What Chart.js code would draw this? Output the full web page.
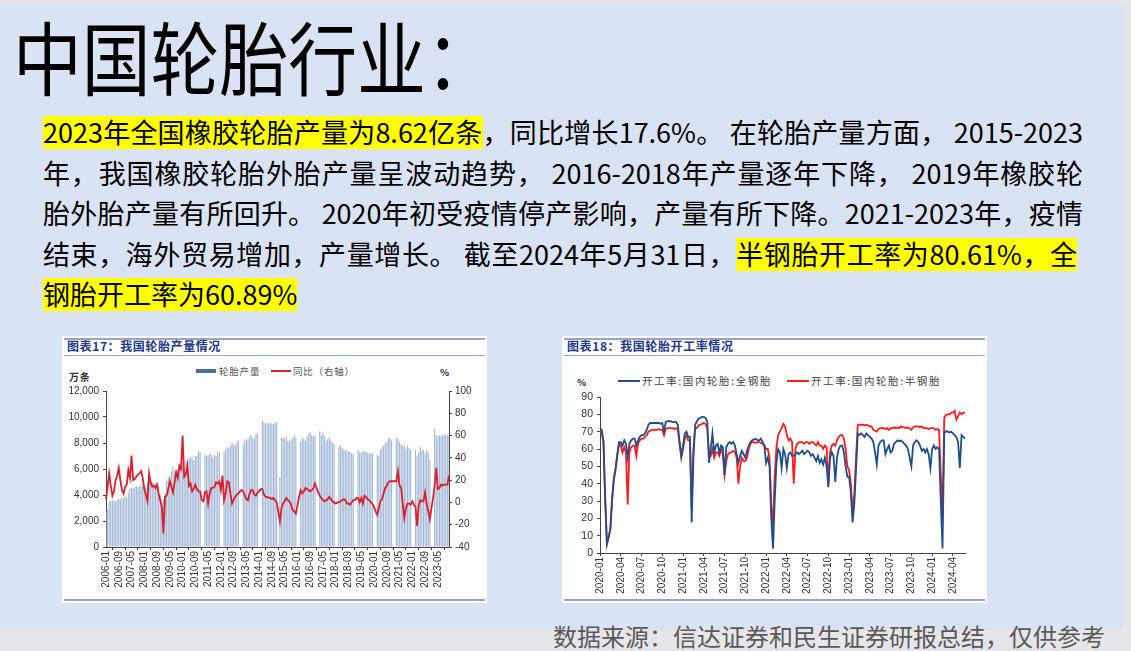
<!DOCTYPE html>
<html><head><meta charset="utf-8">
<script src="https://cdn.jsdelivr.net/npm/chart.js@4.4.1/dist/chart.umd.min.js"></script>
<style>
html,body{margin:0;padding:0;}
body{width:1131px;height:651px;background:#e6e6e8;position:relative;overflow:hidden;font-family:"Noto Sans CJK SC","Noto Sans",sans-serif;}
#slide{position:absolute;left:0;top:5px;width:1123px;height:625px;background:#dae3f3;}
.abs{position:absolute;white-space:nowrap;}
#title{left:13px;top:14px;font-size:80px;line-height:80px;color:#000;transform:scaleX(0.86);transform-origin:left top;}
.pl{position:absolute;left:43px;font-size:27px;line-height:40px;color:#000;white-space:nowrap;text-align:justify;text-align-last:justify;}
.hl{background:linear-gradient(to bottom,transparent 4px,#ffff00 4px,#ffff00 37px,transparent 37px);}
.box{position:absolute;background:#fff;}
.rule{position:absolute;left:2px;right:2px;background:#97a4c9;}
.ctitle{position:absolute;left:5px;top:3px;font-size:12px;line-height:14px;font-weight:700;color:#22398a;letter-spacing:0.6px;white-space:nowrap;}
.leg{position:absolute;font-size:9.5px;line-height:10px;color:#555;white-space:nowrap;letter-spacing:0.8px;}
canvas{position:absolute;}
#src{left:553px;top:624px;font-size:24px;line-height:24px;color:#595959;}
</style></head>
<body>
<div id="slide"></div>
<div id="title" class="abs">中国轮胎行业：</div>

<div class="pl" style="top:112px;width:1040px;"><span class="hl">2023年全国橡胶轮胎产量为8.62亿条</span>，同比增长17.6%。 在轮胎产量方面， 2015-2023</div>
<div class="pl" style="top:153px;width:1040px;">年，我国橡胶轮胎外胎产量呈波动趋势， 2016-2018年产量逐年下降， 2019年橡胶轮</div>
<div class="pl" style="top:193px;width:1040px;">胎外胎产量有所回升。 2020年初受疫情停产影响，产量有所下降。2021-2023年，疫情</div>
<div class="pl" style="top:234px;width:1034px;">结束，海外贸易增加，产量增长。 截至2024年5月31日，<span class="hl">半钢胎开工率为80.61%，全</span></div>
<div class="pl" style="top:274px;text-align:left;text-align-last:left;"><span class="hl">钢胎开工率为60.89%</span></div>

<!-- chart 1 box -->
<div class="box" style="left:62px;top:336px;width:425px;height:267px;">
  <div class="rule" style="top:2px;height:2px;"></div>
  <div class="ctitle">图表17：我国轮胎产量情况</div>
  <div class="rule" style="top:19px;height:1px;"></div>
  <div class="rule" style="top:263px;height:2px;"></div>
  <div class="abs" style="left:134px;top:33px;width:20px;height:4px;background:#4a6fa5;"></div>
  <div class="leg" style="left:157px;top:30px;">轮胎产量</div>
  <div class="abs" style="left:209px;top:34px;width:20px;height:2px;background:#e0202e;"></div>
  <div class="leg" style="left:231px;top:30px;">同比（右轴）</div>
  <div class="leg" style="left:7px;top:36px;font-weight:700;color:#333;font-size:10px;">万条</div>
  <div class="leg" style="left:378px;top:31px;font-weight:700;color:#333;">%</div>
</div>
<canvas id="c1" width="425" height="240" style="left:62px;top:360px;width:425px;height:240px;"></canvas>

<!-- chart 2 box -->
<div class="box" style="left:562px;top:336px;width:425px;height:267px;">
  <div class="rule" style="top:2px;height:2px;"></div>
  <div class="ctitle">图表18：我国轮胎开工率情况</div>
  <div class="rule" style="top:19px;height:1px;"></div>
  <div class="rule" style="top:263px;height:2px;"></div>
  <div class="leg" style="left:15px;top:41px;color:#333;font-weight:700;">%</div>
  <div class="abs" style="left:56px;top:44px;width:22px;height:2px;background:#1f4e8c;"></div>
  <div class="leg" style="left:80px;top:40px;font-size:10.5px;letter-spacing:1.6px;color:#444;">开工率:国内轮胎:全钢胎</div>
  <div class="abs" style="left:225px;top:44px;width:22px;height:2px;background:#ff1a1a;"></div>
  <div class="leg" style="left:249px;top:40px;font-size:10.5px;letter-spacing:1.6px;color:#444;">开工率:国内轮胎:半钢胎</div>
</div>
<canvas id="c2" width="425" height="240" style="left:562px;top:360px;width:425px;height:240px;"></canvas>

<div id="src" class="abs">数据来源：信达证券和民生证券研报总结，仅供参考</div>

<script>
// ===== Chart 1: 我国轮胎产量 (万条) & 同比 (%) , 2006-01 .. 2023-12 monthly =====
const years1 = [2006,2007,2008,2009,2010,2011,2012,2013,2014,2015,2016,2017,2018,2019,2020,2021,2022,2023];
const production = [
 2750,2900,3500,3550,3600,3550,3500,3600,3700,3650,3800,3750,
 3900,3800,4200,4450,4550,4500,4600,4700,4600,4650,4800,4700,
 4750,4600,5000,5150,5100,4950,5000,4850,4900,4700,4000,3600,
 3700,4200,5100,5300,5500,5800,6200,5850,5900,5950,6100,6000,
 6300,5600,6700,6600,6800,6900,6900,6700,7000,7000,7400,7300,
 null,null,7100,7000,7050,7200,7100,6900,7100,7000,7250,7300,
 null,null,7300,7500,7700,7600,7800,8000,7900,7800,8050,8200,
 null,null,7900,8200,8300,8250,8500,8600,8400,8350,8700,8750,
 null,null,9700,9600,9500,9550,9500,9600,9450,9500,9550,9600,
 null,5400,8400,8450,8300,8500,8200,8100,8250,8400,8600,8400,
 null,null,8100,8400,8300,8200,8450,8700,8850,8600,8500,8600,
 null,null,8900,8600,8800,8500,8200,8300,8400,8200,8000,7900,
 null,null,7700,7800,7600,7500,7450,7400,7350,7300,7200,7200,
 null,null,7500,7300,7250,7400,7350,7300,7250,7200,7250,7200,
 null,null,7100,7000,7500,7700,7800,8000,8100,8350,8400,8200,
 null,null,8400,8350,8100,7900,7800,7800,7500,7800,7600,7500,
 null,null,7500,7000,7300,7700,7400,7500,7200,7400,7300,6700,
 null,null,9100,8600,8500,8600,8550,8600,8650,8700,8600,8600
];
const yoy = [
 3,14,26,15,6,10,20,24,31,20,11,8,
 14,16,29,22,42,20,21,23,25,26,28,22,
 12,7,1,26,18,14,15,13,16,8,2,-4,
 -28,5,6,12,19,14,9,18,27,22,33,30,
 60,23,25,33,15,17,10,12,16,12,10,10,
 2,1,9,10,-1,8,13,13,14,18,17,19,
 11,24,2,8,19,18,8,-1,2,5,7,8,
 10,11,10,6,3,2,8,11,11,7,6,9,
 10,12,12,7,5,5,4,4,3,4,2,0,
 -8,-17,-5,-1,1,4,2,1,-2,-7,-8,-10,
 -3,5,11,8,10,13,12,11,10,11,13,17,
 13,9,6,4,2,1,2,3,5,3,1,0,
 -1,0,0,1,2,3,2,-1,-1,-2,0,2,
 2,4,4,0,4,-1,6,5,3,2,0,-1,
 -4,-8,-11,-5,1,3,8,13,15,18,19,19,
 19,19,19,28,15,13,-1,-14,-5,-1,-1,-2,
 1,-2,-4,-21,-3,2,1,1,9,-1,-8,-15,
 -5,4,15,31,12,13,16,15,16,16,16,24
];
const ticks1 = ["2006-01","2006-09","2007-05","2008-01","2008-09","2009-05","2010-01","2010-09","2011-05","2012-01","2012-09","2013-05","2014-01","2014-09","2015-05","2016-01","2016-09","2017-05","2018-01","2018-09","2019-05","2020-01","2020-09","2021-05","2022-01","2022-09","2023-05"];

// ===== Chart 2: 开工率 (%) weekly, 2020-01 .. 2024-05 (4 readings per month) =====
const months2 = ["2020-01","2020-02","2020-03","2020-04","2020-05","2020-06","2020-07","2020-08","2020-09","2020-10","2020-11","2020-12",
 "2021-01","2021-02","2021-03","2021-04","2021-05","2021-06","2021-07","2021-08","2021-09","2021-10","2021-11","2021-12",
 "2022-01","2022-02","2022-03","2022-04","2022-05","2022-06","2022-07","2022-08","2022-09","2022-10","2022-11","2022-12",
 "2023-01","2023-02","2023-03","2023-04","2023-05","2023-06","2023-07","2023-08","2023-09","2023-10","2023-11","2023-12",
 "2024-01","2024-02","2024-03","2024-04","2024-05"];
const ticks2 = ["2020-01","2020-04","2020-07","2020-10","2021-01","2021-04","2021-07","2021-10","2022-01","2022-04","2022-07","2022-10","2023-01","2023-04","2023-07","2023-10","2024-01","2024-04"];
const fullSteel = [
 72,71,65,32, 5,9,14,32, 43,49,57,64, 64,62,65,63, 55,63,65,66, 66,62,65,67,
 68,68,69,71, 74,75,75,75, 75,75,75,74.5, 75,70,75.6,76, 76,76,75.5,75.5, 75.6,74,64,56,
 62,69,70,67, 67,17.6,55,74, 76,77.5,78,78.5, 78.5,78,76,52, 60,69,58,62, 63,58,62,61,
 45,61,63,64, 63,64,62,57, 52,56,59,57, 55,59,62,64, 65,65.5,66,65, 65,66,64,62,
 52,55,50,20, 2.5,30,52,60, 58,49,60,57, 49,57,58,56, 56,57,58,57, 58,59,57,58,
 59,58,56,57, 55,53,56,52, 54,51,55,50, 38,55,58,56, 41,55,60,62, 62,58,50,44,
 44,35,17.6,28, 48,68.9,68,69, 68,67,69,68, 67,66,64,58, 51,62,64,65, 65,57,60,62,
 58,59,63,64, 65,64.5,65,64, 63,62,60,55, 50,62,64,65, 64,62,59,60, 58,60,57,49,
 60,62,60,61, 60,30,2.6,69, 70.3,70,69.5,70, 69,68,67,64, 49,68,67,66
];
const semiSteel = [
 70.5,69,64,30, 5.4,9,14,30, 42,48,56,63, 62,58,61,58, 28,58,61,62, 62,56,63,65,
 66,66,67,68, 70,70.5,71,71, 71,71,71.5,71, 71,68,71.5,72, 72,72,72,71.5, 72,71,63,55,
 60,66,68,65, 65,26,60,72, 72,73.7,74,74.5, 75,74.5,72,58, 56,60,55,58, 58,56,60,57,
 45,53,57,58, 58,59,58,55, 40,50,55,53, 53,55,60,63, 64,64,63.5,64, 64,63.5,63,62,
 60,60,55,28, 15,45,61,68, 70,72,74.5,73, 68,65,66,64, 40,60,63,64, 64,64,63,64,
 64,63,64,64, 63,62,64,62, 62,60,62,61, 40,58,62,63, 62,65,67,68, 68,66,60,50,
 48,40,23.5,34, 55,73.7,74,74, 74,73.7,74,73.5, 73,73,71,70.5, 70,71.5,72,72, 72,71.5,72,71,
 72,72,72.5,72, 72.5,72,73,72.5, 72.5,72,72.5,72, 71,72.5,73,73, 73,72.5,73,72, 72,72,71.5,72,
 72,72,71,71.5, 71,45,22,78, 79.7,80,80,81, 81,82,77,79, 81,80,81,81
];

// category labels
const months1 = [];
years1.forEach(y => { for (let m = 1; m <= 12; m++) months1.push(y + "-" + String(m).padStart(2, "0")); });
const weeks2 = [];
months2.forEach(m => { for (let k = 0; k < 4; k++) weeks2.push(m); });

const tickFont = {family: "'Liberation Sans', Arial, sans-serif", size: 10};
const axisColor = '#444';

new Chart(document.getElementById('c1'), {
  type: 'bar',
  data: {
    labels: months1,
    datasets: [
      {type: 'line', label: '同比（右轴）', data: yoy, yAxisID: 'y1', borderColor: '#dc1f2d', borderWidth: 1.8,
       pointRadius: 0, tension: 0, spanGaps: true, order: 1},
      {type: 'bar', label: '轮胎产量', data: production, yAxisID: 'y', backgroundColor: '#a3b8d6',
       barPercentage: 0.72, categoryPercentage: 1, order: 2}
    ]
  },
  options: {
    responsive: false, animation: false, maintainAspectRatio: false,
    layout: {padding: {top: 31, left: 0, right: 0, bottom: 0}},
    plugins: {legend: {display: false}, tooltip: {enabled: false}},
    scales: {
      x: {
        offset: false,
        grid: {display: true, drawOnChartArea: false, tickLength: 3, color: axisColor},
        border: {color: axisColor, width: 1},
        ticks: {autoSkip: false, maxRotation: 90, minRotation: 90, padding: 1, font: {family: tickFont.family, size: 10}, color: '#333',
          callback: function(v, i) { const l = this.getLabelForValue(v); return ticks1.includes(l) ? l : null; }},
        afterFit: s => { s.height = 53; }
      },
      y: {
        position: 'left', min: 0, max: 12000,
        grid: {display: true, drawOnChartArea: false, tickLength: 3, color: axisColor},
        border: {color: axisColor, width: 1},
        ticks: {stepSize: 2000, font: tickFont, color: '#333', padding: 4},
        afterFit: s => { s.width = 44; }
      },
      y1: {
        position: 'right', min: -40, max: 100,
        grid: {display: true, drawOnChartArea: false, tickLength: 3, color: axisColor},
        border: {color: axisColor, width: 1},
        ticks: {stepSize: 20, font: tickFont, color: '#333', padding: 3},
        afterFit: s => { s.width = 38; }
      }
    }
  }
});

new Chart(document.getElementById('c2'), {
  type: 'line',
  data: {
    labels: weeks2,
    datasets: [
      {label: '开工率:国内轮胎:全钢胎', data: fullSteel, borderColor: '#1f4e8c', borderWidth: 1.8, pointRadius: 0, tension: 0},
      {label: '开工率:国内轮胎:半钢胎', data: semiSteel, borderColor: '#ff1a1a', borderWidth: 1.8, pointRadius: 0, tension: 0}
    ]
  },
  options: {
    responsive: false, animation: false, maintainAspectRatio: false,
    layout: {padding: {top: 37, left: 0, right: 22, bottom: 0}},
    plugins: {legend: {display: false}, tooltip: {enabled: false}},
    scales: {
      x: {
        offset: false,
        grid: {display: true, drawOnChartArea: false, tickLength: 3, color: axisColor},
        border: {color: axisColor, width: 1},
        ticks: {autoSkip: false, maxRotation: 90, minRotation: 90, padding: 1, font: tickFont, color: '#333',
          callback: function(v, i) { return (i % 12 === 0) ? ticks2[i / 12] : null; }},
        afterFit: s => { s.height = 47; }
      },
      y: {
        min: 0, max: 90,
        grid: {display: true, drawOnChartArea: false, tickLength: 3, color: axisColor},
        border: {color: axisColor, width: 1},
        ticks: {stepSize: 10, font: {family: tickFont.family, size: 10.5}, color: '#333', padding: 4},
        afterFit: s => { s.width = 38; }
      }
    }
  }
});
</script>
</body></html>
